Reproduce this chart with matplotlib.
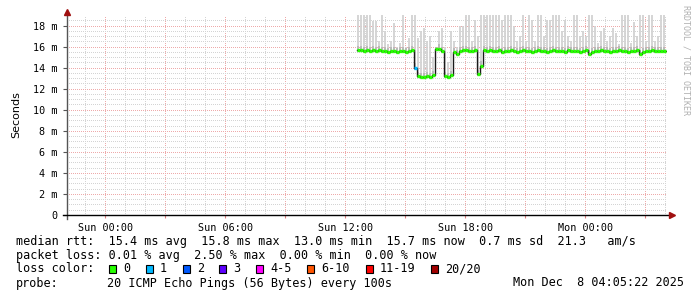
#! /usr/bin/env python3
import datetime as dt

import numpy as np
import pandas as pd
import matplotlib
matplotlib.use('Agg')
import matplotlib.pyplot as plt
import matplotlib.dates as mdates
from matplotlib.patches import Rectangle

# ---- data (ms), one sample every 9 minutes starting Sun 12:35 ----
median_ms = [
    15.7, 15.7, 15.6, 15.7, 15.6, 15.7, 15.6, 15.7, 15.6, 15.6,
    15.5, 15.6, 15.6, 15.5, 15.6, 15.6, 15.5, 15.6, 15.7, 14.0,
    13.2, 13.1, 13.1, 13.2, 13.1, 13.3, 15.8, 15.8, 15.6, 13.2,
    13.1, 13.3, 15.5, 15.3, 15.6, 15.7, 15.7, 15.6, 15.6, 15.7,
    13.4, 14.2, 15.7, 15.6, 15.7, 15.6, 15.6, 15.7, 15.5, 15.6,
    15.6, 15.7, 15.6, 15.5, 15.6, 15.7, 15.6, 15.6, 15.5, 15.6,
    15.7, 15.6, 15.6, 15.5, 15.6, 15.7, 15.6, 15.6, 15.6, 15.5,
    15.7, 15.6, 15.6, 15.6, 15.5, 15.6, 15.7, 15.3, 15.5, 15.6,
    15.6, 15.7, 15.6, 15.6, 15.5, 15.6, 15.6, 15.7, 15.6, 15.6,
    15.5, 15.6, 15.6, 15.7, 15.3, 15.5, 15.6, 15.6, 15.7, 15.6,
    15.6, 15.6, 15.6,
]
smoke_top_ms = [
    19.0, 19.0, 19.0, 19.0, 19.0, 18.4, 18.4, 16.5, 19.0, 17.5,
    16.2, 16.5, 18.2, 16.0, 16.3, 19.0, 16.0, 16.8, 19.0, 19.0,
    16.8, 17.5, 17.8, 16.5, 17.0, 15.0, 16.0, 17.5, 17.8, 16.0,
    14.5, 17.5, 16.5, 16.0, 18.0, 18.0, 19.0, 19.0, 16.5, 18.5,
    17.0, 19.0, 19.0, 19.0, 19.0, 19.0, 19.0, 19.0, 18.5, 19.0,
    19.0, 19.0, 18.0, 16.5, 17.0, 19.0, 16.5, 19.0, 18.5, 16.5,
    19.0, 19.0, 17.0, 18.5, 18.5, 19.0, 19.0, 19.0, 17.5, 18.5,
    17.0, 16.5, 19.0, 19.0, 17.0, 17.5, 17.0, 19.0, 19.0, 18.0,
    16.3, 17.5, 17.8, 16.5, 17.0, 17.8, 17.3, 16.2, 19.0, 19.0,
    19.0, 16.3, 18.3, 17.0, 19.0, 19.0, 16.5, 19.0, 19.0, 16.5,
    17.0, 19.0, 19.0,
]
# lost pings out of 20 per sample (only one sample with loss)
loss_count = [0] * len(median_ms)
loss_count[19] = 1

loss_labels = ['0', '1', '2', '3', '4-5', '6-10', '11-19', '20/20']
loss_colors = ['#26ff00', '#00b8ff', '#0059ff', '#5e00ff', '#ff00ff',
               '#ff5500', '#ff0000', '#a10000']

t_start = dt.datetime(2025, 12, 6, 22, 5, 22)
t_end = dt.datetime(2025, 12, 8, 4, 5, 22)
times = pd.date_range('2025-12-07 12:35:22', periods=len(median_ms), freq='9min')

W, H = 697, 297
fig = plt.figure(figsize=(W / 100, H / 100), dpi=100)
fig.patch.set_facecolor('white')


def fx(x):
    return x / W


def fy(y):
    return 1 - y / H


ax = fig.add_axes([fx(67), fy(215), fx(600), 200 / H])
ax.set_facecolor('white')
ax.set_xlim(t_start, t_end)
ax.set_ylim(0, 19.0)
for s in ax.spines.values():
    s.set_visible(False)

# grid (dotted like rrdtool)
minor_col = '#d4d4d4'
major_col = '#eeaaaa'
dots = (0, (1, 1.6))
first_hour = dt.datetime(2025, 12, 6, 23, 0)
hrs = pd.date_range(first_hour, t_end, freq='1h')
for h in hrs:
    col = major_col if h.hour % 3 == 0 else minor_col
    ax.axvline(h, color=col, lw=0.72, ls=dots, zorder=0, antialiased=False)
for v in np.arange(0.5, 19.0, 0.5):
    col = major_col if abs(v % 2) < 1e-9 else minor_col
    ax.axhline(v, color=col, lw=0.72, ls=dots, zorder=0, antialiased=False)

# smoke: thin vertical strokes from just under the median up to the max ping
tnum = mdates.date2num(times)
step = 9 / (24 * 60)
centers = tnum + step / 2
lows = [m - 0.2 for m in median_ms]
ax.vlines(centers, lows, smoke_top_ms, color='#d2d2d2', lw=1.3, zorder=1)
ax.vlines(centers, lows, [min(t, m + 0.4) for t, m in
                          zip(smoke_top_ms, median_ms)],
          color='#b8b8b8', lw=1.3, zorder=1)

# median: thin dark step line + loss coloured segments
edges = np.append(tnum, tnum[-1] + step)
ax.step(edges, median_ms + [median_ms[-1]], where='post', color='#1a1a1a',
        lw=1.0, zorder=2)
for t, m, lc in zip(tnum, median_ms, loss_count):
    ci = 0 if lc == 0 else 1
    ax.hlines(m, t, t + step * 0.9, color=loss_colors[ci], lw=2.4, zorder=3)

# ticks
ax.set_yticks(np.arange(0, 19, 2))
ax.set_yticklabels(['0'] + ['%d m' % v for v in range(2, 19, 2)])
ax.xaxis.set_major_locator(mdates.HourLocator(byhour=[0, 6, 12, 18]))
ax.xaxis.set_major_formatter(mdates.DateFormatter('%a %H:%M'))
ax.xaxis.set_minor_locator(mdates.HourLocator(byhour=[3, 9, 15, 21]))
ax.tick_params(axis='y', length=3, width=0.8, color='#555555', pad=4,
               labelsize=7.3, labelfontfamily='DejaVu Sans Mono')
ax.tick_params(axis='x', which='both', length=2, width=0.8, color='#e08080',
               pad=4, labelsize=7.3, labelfontfamily='DejaVu Sans Mono')
ax.set_ylabel('Seconds', fontsize=8, family='DejaVu Sans', labelpad=8)

# axis lines with arrows
ax.plot([0, 0], [-0.02, 1.01], transform=ax.transAxes, color='#555555',
        lw=1, clip_on=False, zorder=5)
ax.plot([-0.007, 1.005], [0, 0], transform=ax.transAxes, color='black',
        lw=1, clip_on=False, zorder=5)
ax.plot([0], [1.015], transform=ax.transAxes, marker='^', ms=4,
        color='#a01010', clip_on=False, zorder=6)
ax.plot([1.008], [0], transform=ax.transAxes, marker='>', ms=4,
        color='#a01010', clip_on=False, zorder=6)

# watermark
fig.text(fx(686), fy(60), 'RRDTOOL / TOBI OETIKER', rotation=270,
         ha='center', va='center', fontsize=6, color='#b0b0b0',
         family='DejaVu Sans Mono')

# legend
mono = dict(family='DejaVu Sans Mono', fontsize=8.5, color='black',
            va='center', ha='left')
fig.text(fx(16), fy(241), 'median rtt:  15.4 ms avg  15.8 ms max  13.0 ms min'
         '  15.7 ms now  0.7 ms sd  21.3   am/s', **mono)
fig.text(fx(16), fy(255), 'packet loss: 0.01 % avg  2.50 % max'
         '  0.00 % min  0.00 % now', **mono)
fig.text(fx(16), fy(269), 'loss color:', **mono)
box_x = [109, 146, 183, 219, 256, 307, 366, 431]
for bx, lab, col in zip(box_x, loss_labels, loss_colors):
    fig.add_artist(Rectangle((fx(bx), fy(273)), 7 / W, 8 / H,
                             transform=fig.transFigure, facecolor=col,
                             edgecolor='black', lw=0.8))
    fig.text(fx(bx + 14), fy(269), lab, **mono)
fig.text(fx(16), fy(283), 'probe:', **mono)
fig.text(fx(107), fy(283), '20 ICMP Echo Pings (56 Bytes) every 100s', **mono)
fig.text(fx(513), fy(283), 'Mon Dec  8 04:05:22 2025', **mono)

fig.savefig('out.png', dpi=100, facecolor='white')
